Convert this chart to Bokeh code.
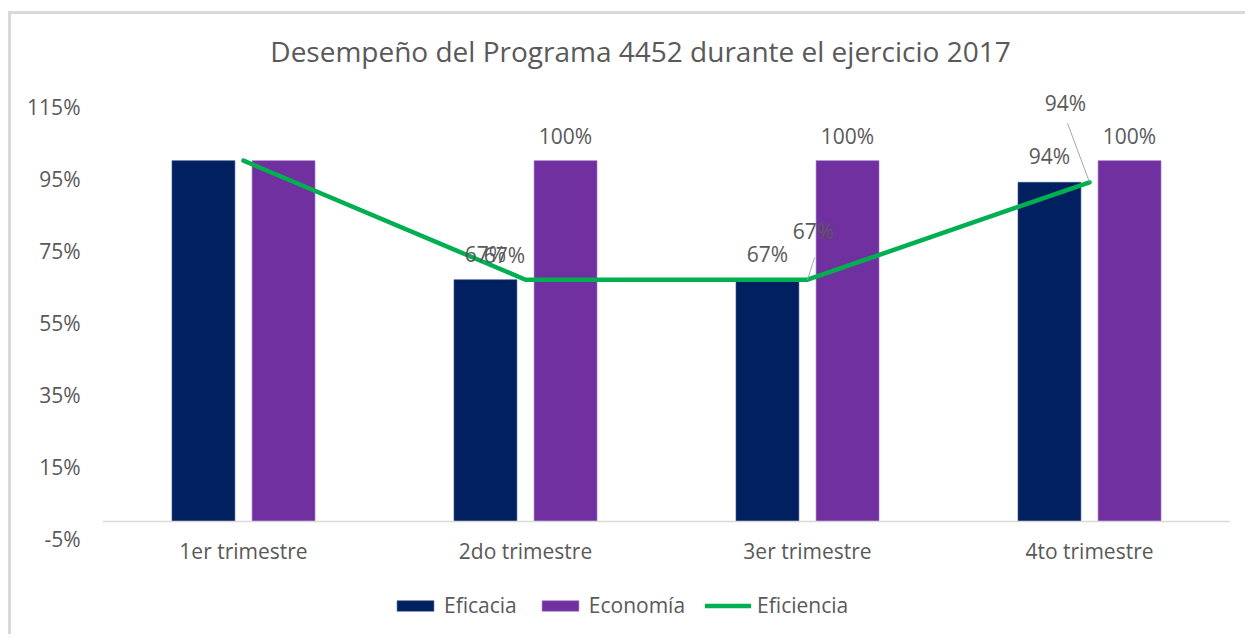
from bokeh.plotting import figure
from bokeh.models import (FactorRange, Range1d, ColumnDataSource, LabelSet, Label,
                          Legend, LegendItem, Span, NumeralTickFormatter, FixedTicker)
from bokeh.core.properties import value
from bokeh.transform import dodge
from bokeh.embed import file_html
from bokeh.resources import INLINE

# ---------------- data ----------------
categories = ["1er trimestre", "2do trimestre", "3er trimestre", "4to trimestre"]
eficacia = [1.00, 0.67, 0.67, 0.94]
economia = [1.00, 1.00, 1.00, 1.00]
eficiencia = [1.00, 0.67, 0.67, 0.94]
y_ticks = [-0.05, 0.15, 0.35, 0.55, 0.75, 0.95, 1.15]
title_text = "Desempeño del Programa 4452 durante el ejercicio 2017"
labeled = [1, 2, 3]  # categories whose values carry data labels

# ---------------- styling ----------------
FONT = "Open Sans"
GRAY = "#595959"
NAVY = "#002060"
PURPLE = "#7030A0"
GREEN = "#00B050"
PX_X = 282.0   # pixels per category
PX_Y = 360.7   # pixels per unit of y
Y_TOP = 1.15 + 76 / PX_Y     # room above the last tick for the title
Y_BOT = -0.05 - 90 / PX_Y    # room below the axis for category names and legend

p = figure(x_range=FactorRange(*categories), y_range=Range1d(Y_BOT, Y_TOP),
           width=1237, height=623, output_backend="svg", toolbar_location=None,
           min_border_left=91, min_border_right=18, min_border_top=16, min_border_bottom=8)
p.styles = {"margin-left": "8px", "margin-top": "11px",
            "border-left": "3px solid #d9d9d9", "border-top": "3px solid #d9d9d9"}
p.outline_line_color = None
p.xgrid.grid_line_color = None
p.ygrid.grid_line_color = None
p.background_fill_color = "white"
p.border_fill_color = "white"

src = ColumnDataSource(dict(x=categories, eficacia=eficacia, economia=economia, eficiencia=eficiencia))
r_efic = p.vbar(x=dodge("x", -0.142, range=p.x_range), top="eficacia", bottom=0, width=0.223,
                source=src, fill_color=NAVY, line_color="#3a4f86", line_width=0.6)
r_econ = p.vbar(x=dodge("x", 0.142, range=p.x_range), top="economia", bottom=0, width=0.223,
                source=src, fill_color=PURPLE, line_color="#9a6cc0", line_width=0.6)
p.add_layout(Span(location=0, dimension="width", line_color="#d9d9d9", line_width=1.5))
r_line = p.line(x="x", y="eficiencia", source=src, line_color=GREEN, line_width=4.5,
                line_join="round", line_cap="round")

# axes
p.xaxis.visible = False
p.yaxis.ticker = FixedTicker(ticks=y_ticks)
p.yaxis.formatter = NumeralTickFormatter(format="0%")
p.yaxis.axis_line_color = None
p.yaxis.major_tick_line_color = None
p.yaxis.minor_tick_line_color = None
p.yaxis.major_tick_out = 0
p.yaxis.major_tick_in = 0
p.yaxis.major_label_text_font = FONT
p.yaxis.major_label_text_font_size = "21px"
p.yaxis.major_label_text_color = GRAY
p.yaxis.major_label_standoff = 22

# category names under the lowest tick
p.add_layout(LabelSet(x="x", y=value(y_ticks[0]), text="x", source=ColumnDataSource(dict(x=categories)),
                      y_offset=-12, text_align="center", text_baseline="middle",
                      text_font=value(FONT), text_font_size=value("21px"), text_color=value(GRAY)))

# data labels
def labelset(values, dx, dy):
    s = ColumnDataSource(dict(x=[categories[i] for i in labeled],
                              y=[values[i] for i in labeled],
                              t=[f"{values[i]:.0%}" for i in labeled],
                              dx=dx, dy=dy))
    return LabelSet(x="x", y="y", text="t", source=s, x_offset="dx", y_offset="dy",
                    text_align="center", text_baseline="middle", text_font=value(FONT),
                    text_font_size=value("21px"), text_color=value(GRAY))

p.add_layout(labelset(eficacia, [-40, -40, -40], [26, 26, 26]))
p.add_layout(labelset(economia, [40, 40, 40], [25, 25, 25]))
p.add_layout(labelset(eficiencia, [-21, 6, -24], [25, 49, 79]))

# leader lines for the Eficiencia labels (3er and 4to)
lead_idx = [2, 3]
lead_dx = [7, -22]
lead_dy = [22, 59]
x0 = [i + 0.5 for i in lead_idx]
y0 = [eficiencia[i] for i in lead_idx]
x1 = [x0[k] + lead_dx[k] / PX_X for k in range(len(lead_idx))]
y1 = [y0[k] + lead_dy[k] / PX_Y for k in range(len(lead_idx))]
p.segment(x0=x0, y0=y0, x1=x1, y1=y1, line_color="#a6a6a6", line_width=1)

# title
p.add_layout(Label(x=(640 - 102) / PX_X, y=1.15 + (106 - 50) / PX_Y, text=title_text,
                   text_align="center", text_baseline="middle", text_font=FONT,
                   text_font_size="28px", text_color=GRAY))

# legend
legend = Legend(items=[LegendItem(label="Eficacia", renderers=[r_efic]),
                       LegendItem(label="Economía", renderers=[r_econ]),
                       LegendItem(label="Eficiencia", renderers=[r_line])],
                orientation="horizontal", location=(290, 10),
                glyph_width=46, glyph_height=13, label_standoff=6, spacing=20,
                padding=0, margin=0, border_line_color=None, background_fill_alpha=0,
                label_text_font=FONT, label_text_font_size="21px", label_text_color=GRAY)
p.add_layout(legend)

open("out.html", "w").write(file_html(p, INLINE))
